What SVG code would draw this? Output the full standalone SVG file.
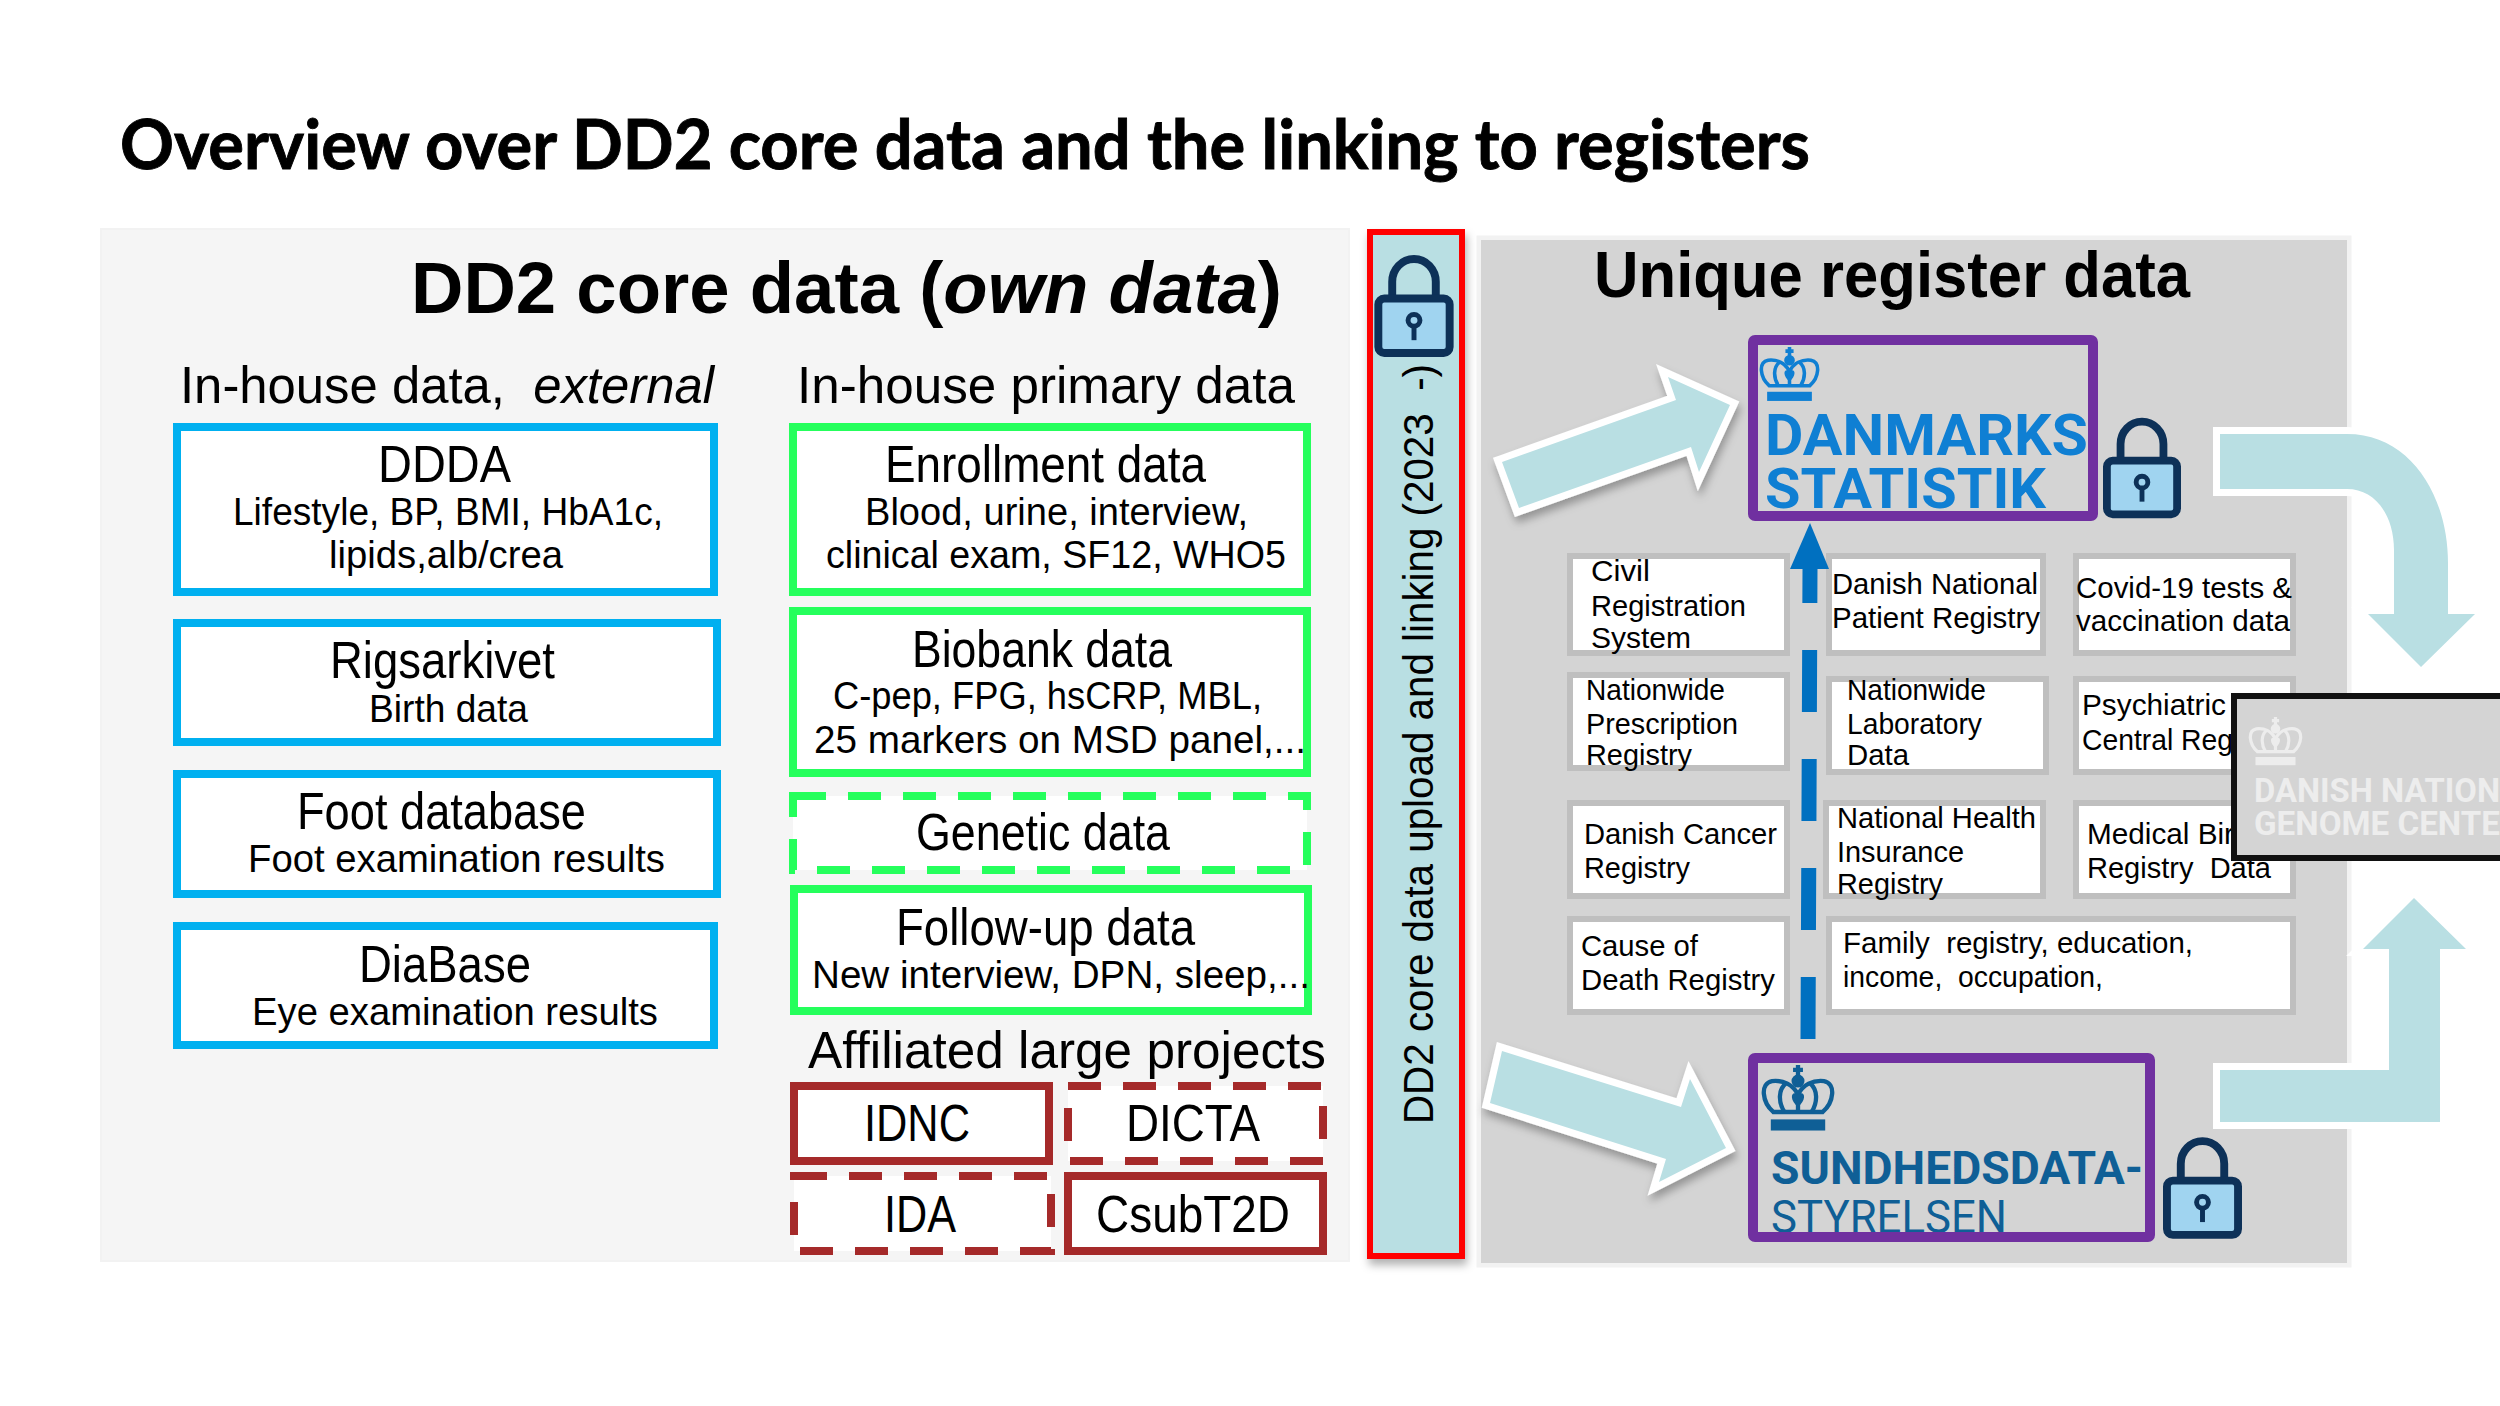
<svg xmlns="http://www.w3.org/2000/svg" xmlns:xlink="http://www.w3.org/1999/xlink" width="2500" height="1406" viewBox="0 0 2500 1406">
<style>
text{font-family:"Liberation Sans",Arial,sans-serif;fill:#000;white-space:pre}
.h{font-size:52px}.s{font-size:39px}.r{font-size:30px}
.ext{fill:#fff;stroke:#00B0F0;stroke-width:8}
.gr{fill:#fff;stroke:#25FF5C;stroke-width:8}
.br{fill:#fff;stroke:#A52A2A;stroke-width:8}
.dg{stroke-dasharray:33 22}
.reg{fill:#fff;stroke:#BFBFBF;stroke-width:6}
.pur{fill:none;stroke:#7030A0;stroke-width:10}
.big{fill:#B9DFE3;stroke:#fff;stroke-width:14;stroke-linejoin:miter;paint-order:stroke}
.logo{font-family:Roboto,"Liberation Sans",sans-serif}
</style>
<defs>
<filter id="sh" x="-20%" y="-20%" width="140%" height="140%"><feDropShadow dx="2" dy="6" stdDeviation="4" flood-color="#000" flood-opacity="0.3"/></filter>
<clipPath id="c1"><rect x="1758" y="345" width="330" height="166"/></clipPath>
<clipPath id="c2"><rect x="1758" y="1063" width="387" height="169"/></clipPath>
<clipPath id="c3"><rect x="2237" y="699" width="263" height="156"/></clipPath>
<symbol id="lock" viewBox="0 0 80 104">
<path d="M18 50V27a22 23 0 0 1 44 0V50" fill="none" stroke="#0D3158" stroke-width="8"/>
<rect x="4" y="44" width="72" height="55" rx="6" fill="#A0D4F0" stroke="#0D3158" stroke-width="8"/>
<circle cx="40" cy="66" r="6" fill="none" stroke="#0D3158" stroke-width="5"/>
<path d="M40 72V86" stroke="#0D3158" stroke-width="5"/>
</symbol>
<symbol id="crown" viewBox="0 0 60 55" overflow="visible">
<g fill="none" stroke="currentColor" stroke-width="3.5">
<path d="M30 0V10M26 4H34"/>
<circle cx="30" cy="13" r="3.5" fill="currentColor"/>
<path d="M10 38C1 30 -1 15 9 13C18 12 26 16 30 24C34 16 42 12 51 13C61 15 59 30 50 38Z"/>
<path d="M19 38C14 30 14 20 20 15M41 38C46 30 46 20 40 15M30 24V38"/>
</g>
<path d="M30 24C25 20 22 27 30 34C38 27 35 20 30 24Z" fill="currentColor"/>
<rect x="8" y="44" width="44" height="9" fill="currentColor"/>
</symbol>
</defs>
<rect width="2500" height="1406" fill="#fff"/>

<text x="120" y="169" font-size="68" font-weight="700" style="font-family:Lato,'Liberation Sans',sans-serif;stroke:#000;stroke-width:0.9" textLength="1690" lengthAdjust="spacingAndGlyphs">Overview over DD2 core data and the linking to registers</text>

<g id="panel-core">
<rect x="101" y="229" width="1248" height="1032" fill="#F5F5F5" stroke="#F2F2F2" stroke-width="2"/>
<text x="411" y="313" font-size="72" font-weight="700" textLength="871" lengthAdjust="spacingAndGlyphs">DD2 core data (<tspan font-style="italic">own data</tspan>)</text>
<text class="h" x="180" y="403" textLength="534" lengthAdjust="spacingAndGlyphs">In-house data,  <tspan font-style="italic">external</tspan></text>
<text class="h" x="797" y="403" textLength="498" lengthAdjust="spacingAndGlyphs">In-house primary data</text>
<text class="h" x="808" y="1068" textLength="518" lengthAdjust="spacingAndGlyphs">Affiliated large projects</text>
</g>

<g id="node-ddda"><rect class="ext" x="177" y="427" width="537" height="165"/>
<text class="h" x="378" y="482" textLength="133" lengthAdjust="spacingAndGlyphs">DDDA</text>
<text class="s" x="233" y="525" textLength="430" lengthAdjust="spacingAndGlyphs">Lifestyle, BP, BMI, HbA1c,</text>
<text class="s" x="329" y="568" textLength="234" lengthAdjust="spacingAndGlyphs">lipids,alb/crea</text></g>
<g id="node-rigsarkivet"><rect class="ext" x="177" y="623" width="540" height="119"/>
<text class="h" x="330" y="678" textLength="225" lengthAdjust="spacingAndGlyphs">Rigsarkivet</text>
<text class="s" x="369" y="722" textLength="159" lengthAdjust="spacingAndGlyphs">Birth data</text></g>
<g id="node-foot"><rect class="ext" x="177" y="774" width="540" height="120"/>
<text class="h" x="297" y="829" textLength="289" lengthAdjust="spacingAndGlyphs">Foot database</text>
<text class="s" x="248" y="872" textLength="417" lengthAdjust="spacingAndGlyphs">Foot examination results</text></g>
<g id="node-diabase"><rect class="ext" x="177" y="926" width="537" height="119"/>
<text class="h" x="359" y="982" textLength="172" lengthAdjust="spacingAndGlyphs">DiaBase</text>
<text class="s" x="252" y="1025" textLength="406" lengthAdjust="spacingAndGlyphs">Eye examination results</text></g>

<g id="node-enrollment"><rect class="gr" x="793" y="427" width="514" height="165"/>
<text class="h" x="885" y="482" textLength="321" lengthAdjust="spacingAndGlyphs">Enrollment data</text>
<text class="s" x="865" y="525" textLength="383" lengthAdjust="spacingAndGlyphs">Blood, urine, interview,</text>
<text class="s" x="826" y="568" textLength="460" lengthAdjust="spacingAndGlyphs">clinical exam, SF12, WHO5</text></g>
<g id="node-biobank"><rect class="gr" x="793" y="611" width="514" height="162"/>
<text class="h" x="912" y="667" textLength="260" lengthAdjust="spacingAndGlyphs">Biobank data</text>
<text class="s" x="833" y="709" textLength="429" lengthAdjust="spacingAndGlyphs">C-pep, FPG, hsCRP, MBL,</text>
<text class="s" x="814" y="753" textLength="492" lengthAdjust="spacingAndGlyphs">25 markers on MSD panel,...</text></g>
<g id="node-genetic"><rect class="gr dg" x="793" y="796" width="514" height="74"/>
<text class="h" x="916" y="850" textLength="254" lengthAdjust="spacingAndGlyphs">Genetic data</text></g>
<g id="node-followup"><rect class="gr" x="794" y="889" width="514" height="122"/>
<text class="h" x="896" y="945" textLength="299" lengthAdjust="spacingAndGlyphs">Follow-up data</text>
<text class="s" x="812" y="988" textLength="498" lengthAdjust="spacingAndGlyphs">New interview, DPN, sleep,...</text></g>

<g id="node-idnc"><rect class="br" x="794" y="1086" width="255" height="75"/>
<text class="h" x="864" y="1141" textLength="106" lengthAdjust="spacingAndGlyphs">IDNC</text></g>
<g id="node-dicta"><rect class="br dg" x="1068" y="1086" width="255" height="75"/>
<text class="h" x="1126" y="1141" textLength="134" lengthAdjust="spacingAndGlyphs">DICTA</text></g>
<g id="node-ida"><rect class="br dg" x="794" y="1176" width="257" height="75"/>
<text class="h" x="884" y="1232" textLength="72" lengthAdjust="spacingAndGlyphs">IDA</text></g>
<g id="node-csubt2d"><rect class="br" x="1068" y="1176" width="255" height="75"/>
<text class="h" x="1096" y="1232" textLength="194" lengthAdjust="spacingAndGlyphs">CsubT2D</text></g>

<g id="node-upload">
<rect x="1370" y="232" width="92" height="1024" fill="#B9DFE3" stroke="#FF0000" stroke-width="6" filter="url(#sh)"/>
<text transform="translate(1433 1124) rotate(-90)" font-size="42" textLength="760" lengthAdjust="spacingAndGlyphs">DD2 core data upload and linking (2023  -)</text>
<use xlink:href="#lock" href="#lock" x="1374" y="255" width="80" height="103"/>
</g>

<g id="panel-register">
<rect x="1481" y="240" width="866" height="1023" fill="#D4D4D4" stroke="#F2F2F2" stroke-width="9" style="paint-order:stroke"/>
<text x="1594" y="297" font-size="64" font-weight="700" textLength="596" lengthAdjust="spacingAndGlyphs">Unique register data</text>
</g>

<g id="node-danmarks-statistik">
<use href="#crown" x="1759" y="347" width="61" height="56" color="#0F7FD3"/>
<g clip-path="url(#c1)">
<text class="logo" x="1765" y="455" font-size="58" font-weight="700" style="fill:#0F7FD3" textLength="323" lengthAdjust="spacingAndGlyphs">DANMARKS</text>
<text class="logo" x="1765" y="508" font-size="56" font-weight="700" style="fill:#0F7FD3" textLength="281" lengthAdjust="spacingAndGlyphs">STATISTIK</text>
</g>
<rect class="pur" x="1753" y="340" width="340" height="176" rx="2"/>
<use href="#lock" x="2103" y="417" width="78" height="103"/>
</g>

<g id="node-sundhedsdata">
<use href="#crown" x="1759" y="1065" width="78" height="68" color="#0F5F96"/>
<g clip-path="url(#c2)">
<text class="logo" x="1771" y="1184" font-size="46" font-weight="700" style="fill:#0F5F96" textLength="372" lengthAdjust="spacingAndGlyphs">SUNDHEDSDATA-</text>
<text class="logo" x="1771" y="1233" font-size="46" style="fill:#0F5F96" textLength="236" lengthAdjust="spacingAndGlyphs">STYRELSEN</text>
</g>
<rect class="pur" x="1753" y="1058" width="397" height="179" rx="2"/>
<use href="#lock" x="2163" y="1136" width="79" height="105"/>
</g>

<g id="registries">
<g id="node-civil"><rect class="reg" x="1570" y="556" width="217" height="97"/>
<text class="r" x="1591" y="581" textLength="59" lengthAdjust="spacingAndGlyphs">Civil</text>
<text class="r" x="1591" y="616" textLength="155" lengthAdjust="spacingAndGlyphs">Registration</text>
<text class="r" x="1591" y="648" textLength="100" lengthAdjust="spacingAndGlyphs">System</text></g>
<g id="node-patient"><rect class="reg" x="1829" y="556" width="214" height="97"/>
<text class="r" x="1832" y="594" textLength="206" lengthAdjust="spacingAndGlyphs">Danish National</text>
<text class="r" x="1832" y="628" textLength="208" lengthAdjust="spacingAndGlyphs">Patient Registry</text></g>
<g id="node-covid"><rect class="reg" x="2076" y="556" width="217" height="97"/>
<text class="r" x="2076" y="598" textLength="216" lengthAdjust="spacingAndGlyphs">Covid-19 tests &amp;</text>
<text class="r" x="2076" y="631" textLength="214" lengthAdjust="spacingAndGlyphs">vaccination data</text></g>
<g id="node-prescription"><rect class="reg" x="1570" y="675" width="217" height="93"/>
<text class="r" x="1586" y="700" textLength="139" lengthAdjust="spacingAndGlyphs">Nationwide</text>
<text class="r" x="1586" y="734" textLength="152" lengthAdjust="spacingAndGlyphs">Prescription</text>
<text class="r" x="1586" y="765" textLength="106" lengthAdjust="spacingAndGlyphs">Registry</text></g>
<g id="node-laboratory"><rect class="reg" x="1829" y="679" width="217" height="93"/>
<text class="r" x="1847" y="700" textLength="139" lengthAdjust="spacingAndGlyphs">Nationwide</text>
<text class="r" x="1847" y="734" textLength="135" lengthAdjust="spacingAndGlyphs">Laboratory</text>
<text class="r" x="1847" y="765" textLength="62" lengthAdjust="spacingAndGlyphs">Data</text></g>
<g id="node-psychiatric"><rect class="reg" x="2076" y="679" width="217" height="93"/>
<text class="r" x="2082" y="715" textLength="144" lengthAdjust="spacingAndGlyphs">Psychiatric</text>
<text class="r" x="2082" y="750" textLength="151" lengthAdjust="spacingAndGlyphs">Central Reg</text></g>
<g id="node-cancer"><rect class="reg" x="1570" y="803" width="217" height="93"/>
<text class="r" x="1584" y="844" textLength="193" lengthAdjust="spacingAndGlyphs">Danish Cancer</text>
<text class="r" x="1584" y="878" textLength="106" lengthAdjust="spacingAndGlyphs">Registry</text></g>
<g id="node-insurance"><rect class="reg" x="1826" y="803" width="217" height="93"/>
<text class="r" x="1837" y="828" textLength="199" lengthAdjust="spacingAndGlyphs">National Health</text>
<text class="r" x="1837" y="862" textLength="127" lengthAdjust="spacingAndGlyphs">Insurance</text>
<text class="r" x="1837" y="894" textLength="106" lengthAdjust="spacingAndGlyphs">Registry</text></g>
<g id="node-birth"><rect class="reg" x="2076" y="803" width="217" height="93"/>
<text class="r" x="2087" y="844" textLength="147" lengthAdjust="spacingAndGlyphs">Medical Bir</text>
<text class="r" x="2087" y="878" textLength="184" lengthAdjust="spacingAndGlyphs">Registry  Data</text></g>
<g id="node-death"><rect class="reg" x="1570" y="919" width="217" height="93"/>
<text class="r" x="1581" y="956" textLength="117" lengthAdjust="spacingAndGlyphs">Cause of</text>
<text class="r" x="1581" y="990" textLength="194" lengthAdjust="spacingAndGlyphs">Death Registry</text></g>
<g id="node-family"><rect class="reg" x="1829" y="919" width="464" height="93"/>
<text class="r" x="1843" y="953" textLength="350" lengthAdjust="spacingAndGlyphs">Family  registry, education,</text>
<text class="r" x="1843" y="987" textLength="260" lengthAdjust="spacingAndGlyphs">income,  occupation,</text></g>
</g>

<g id="connectors">
<path class="big" filter="url(#sh)" d="M1502 462L1676 400L1668 377L1730 405L1699 472L1691 447L1519 508Z"/>
<path class="big" filter="url(#sh)" d="M1502 1051L1681 1107L1690 1079L1726 1148L1659 1182L1666 1159L1490 1103Z"/>
<path class="big" d="M2220 434H2347C2410 434 2448 495 2448 563V614H2475L2421 667L2368 614H2394V550C2394 515 2375 489 2347 489H2220Z"/>
<path class="big" d="M2220 1070H2389V949H2363L2414 898L2466 949H2440V1122H2220Z"/>
<path d="M1808 1039L1810 569" fill="none" stroke="#0070C0" stroke-width="15" stroke-dasharray="62 47"/>
<path d="M1810 523L1829 569H1790Z" fill="#0070C0"/>
</g>

<g id="node-genome-center">
<rect x="2234" y="696" width="280" height="162" fill="#D4D4D4" stroke="#111" stroke-width="6"/>
<use href="#crown" x="2247" y="717" width="57" height="50" color="#EDEDED"/>
<g clip-path="url(#c3)">
<text class="logo" x="2254" y="802" font-size="33" font-weight="700" style="fill:#EDEDED" textLength="246" lengthAdjust="spacingAndGlyphs">DANISH NATION</text>
<text class="logo" x="2254" y="835" font-size="33" font-weight="700" style="fill:#EDEDED" textLength="246" lengthAdjust="spacingAndGlyphs">GENOME CENTE</text>
</g>
</g>
</svg>
